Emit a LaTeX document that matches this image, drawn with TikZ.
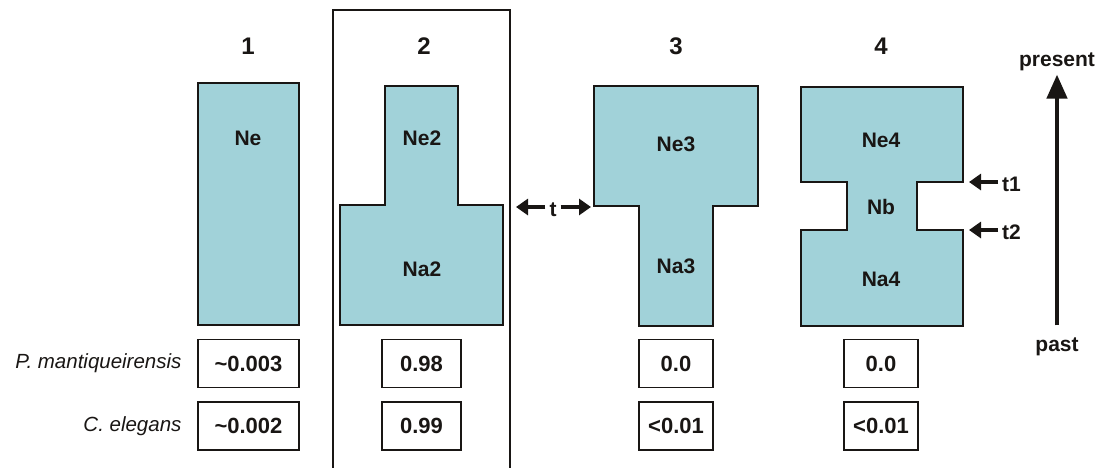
\documentclass[tikz,border=0pt]{standalone}
\usepackage{fontspec}
\setmainfont{Liberation Sans}
\usetikzlibrary{arrows.meta,positioning}
\definecolor{popblue}{RGB}{161,210,217}
\definecolor{inkblack}{RGB}{25,22,20}

\begin{document}
\begin{tikzpicture}
[x=1pt, y=-1pt, line join=miter,
pop/.style={draw=inkblack, line width=2.9pt, fill=popblue},
lab/.style={font=\bfseries\fontsize{21}{24}\selectfont, text=inkblack},
head/.style={font=\bfseries\fontsize{24}{28}\selectfont, text=inkblack},
prob/.style={draw=inkblack, line width=1.6pt, minimum height=48pt, inner sep=0pt, font=\bfseries\fontsize{22}{26}\selectfont, text=inkblack},
species/.style={anchor=east, font=\itshape\fontsize{20.5}{24}\selectfont, text=inkblack},
tarrow/.style={line width=4pt, draw=inkblack, -{Triangle[length=12pt,width=16pt]}}]

\useasboundingbox (0,0) rectangle (1105,467);

% model 2 is framed
\draw[inkblack, line width=2.9pt] (333,470) -- (333,10) -- (510,10) -- (510,470);

% population shapes
\draw[pop] (198,83) rectangle (299,325);
\draw[pop] (385,86) -- (458,86) -- (458,205) -- (503,205) -- (503,325) -- (340,325) -- (340,205) -- (385,205) -- cycle;
\draw[pop] (594,86) -- (758,86) -- (758,206) -- (713,206) -- (713,326) -- (639,326) -- (639,206) -- (594,206) -- cycle;
\draw[pop] (801,87) -- (963,87) -- (963,182) -- (917,182) -- (917,230) -- (963,230) -- (963,326) -- (801,326) -- (801,230) -- (847,230) -- (847,182) -- (801,182) -- cycle;

% headers
\node[head] (h1) at (248,46) {1};
\node[head] (h2) at (424,46) {2};
\node[head] (h3) at (676,46) {3};
\node[head] (h4) at (881,46) {4};

% sizes
\node[lab] (ne1) at (248,138) {Ne};
\node[lab] (ne2) at (422,138) {Ne2};
\node[lab] (na2) at (422,269) {Na2};
\node[lab] (ne3) at (676,144) {Ne3};
\node[lab] (na3) at (676,266) {Na3};
\node[lab] (ne4) at (881,140) {Ne4};
\node[lab] (nb4) at (881,207) {Nb};
\node[lab] (na4) at (881,279) {Na4};

% split time of model 3
\coordinate (tl) at (516,207);
\coordinate (tr) at (591,207);
\node[lab, inner sep=0pt] (t) at (553,210) {t};
\draw[tarrow] (t.west) ++(-4,-3) -- (tl);
\draw[tarrow] (t.east) ++(4,-3) -- (tr);

% bottleneck times of model 4
\coordinate (t1tip) at (969,182);
\coordinate (t2tip) at (969,230);
\node[lab, anchor=west, inner sep=0pt] (t1) at (1002,184) {t1};
\node[lab, anchor=west, inner sep=0pt] (t2) at (1002,232) {t2};
\draw[tarrow] (t1.west) ++(-4,-2) -- (t1tip);
\draw[tarrow] (t2.west) ++(-4,-2) -- (t2tip);

% time axis
\node[lab] (present) at (1057,62) {present};
\node[lab] (past) at (1057,347) {past};
\draw[line width=4.4pt, draw=inkblack, -{Triangle[length=24pt,width=20pt]}] (past.north) ++(0,-9) -- (present.south);

% posterior probabilities
\node[species] (pm) at (185,363) {P. mantiqueirensis};
\node[species] (ce) at (185,426) {C. elegans};
\node[prob, minimum width=101pt] (p1) at (248.5,363.5) {\textasciitilde0.003};
\node[prob, minimum width=79pt] (p2) at (421.5,363.5) {0.98};
\node[prob, minimum width=74pt] (p3) at (676,363.5) {0.0};
\node[prob, minimum width=74pt] (p4) at (881,363.5) {0.0};
\node[prob, minimum width=101pt] (c1) at (248.5,426) {\textasciitilde0.002};
\node[prob, minimum width=79pt] (c2) at (421.5,426) {0.99};
\node[prob, minimum width=74pt] (c3) at (676,426) {<0.01};
\node[prob, minimum width=74pt] (c4) at (881,426) {<0.01};
\end{tikzpicture}
\end{document}
